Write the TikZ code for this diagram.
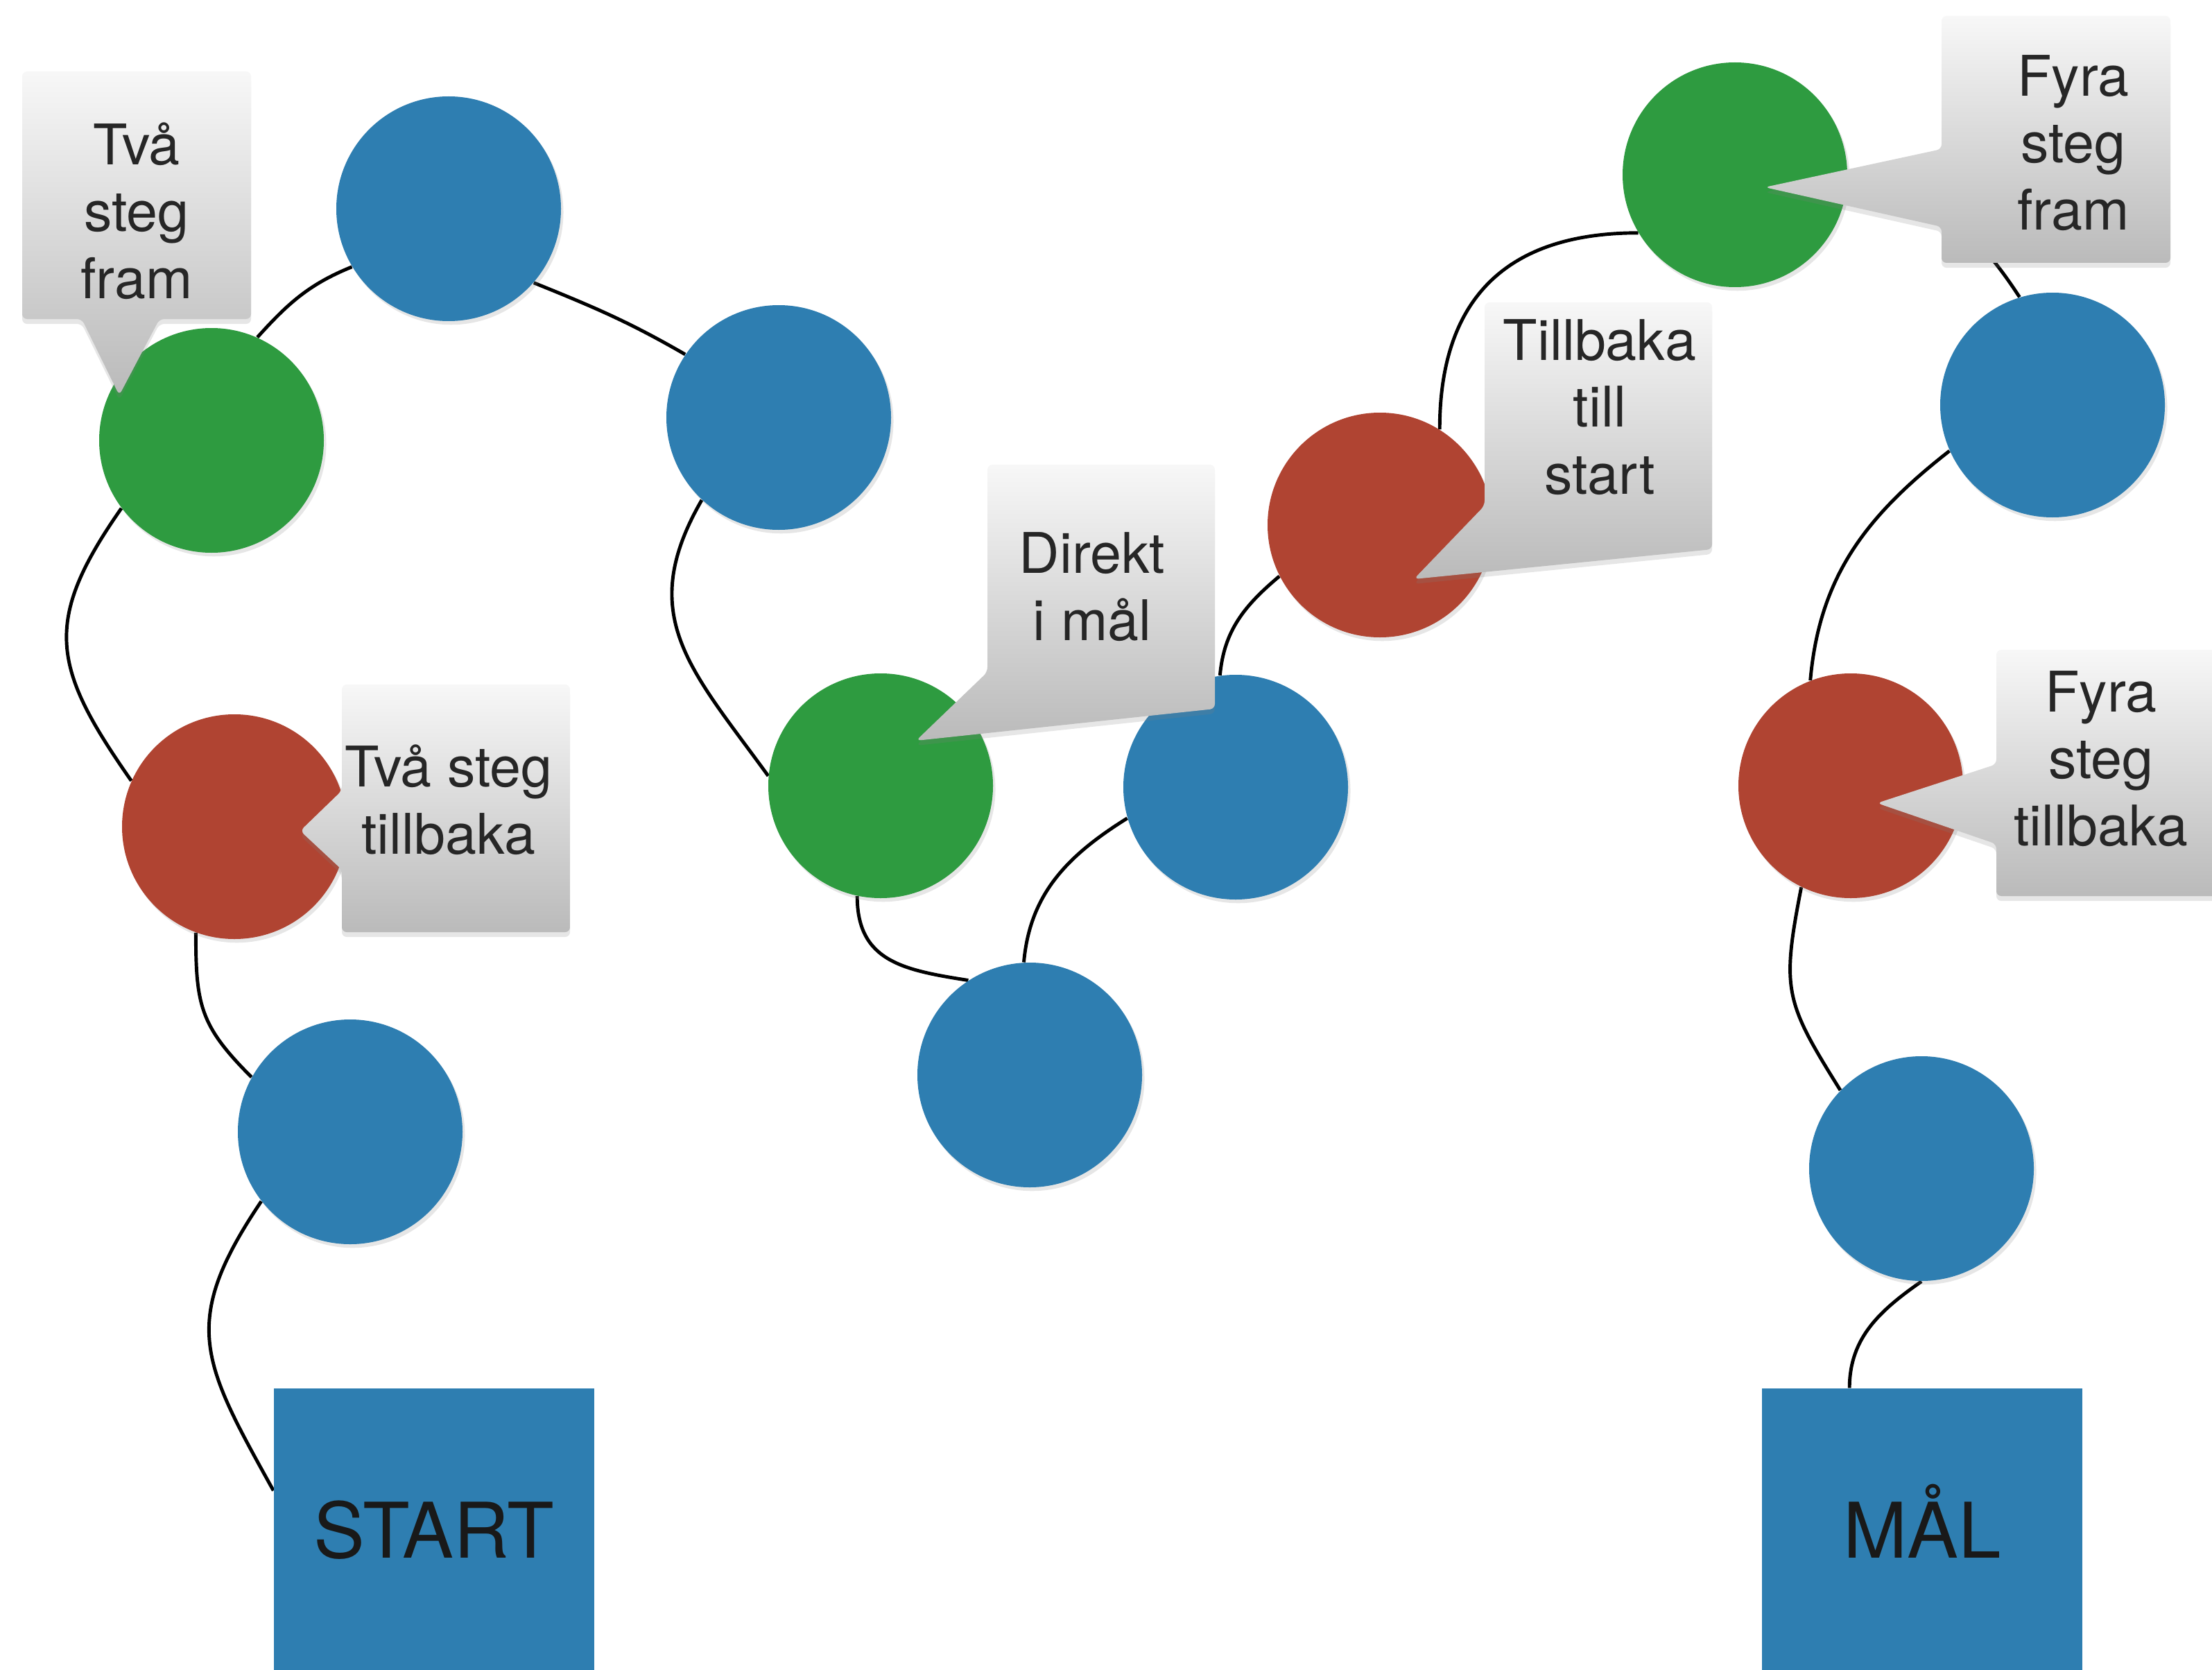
\documentclass[tikz,border=0pt]{standalone}
\usepackage{fontspec}
\setmainfont{TeX Gyre Heros}
\usepackage{tikz}
\usetikzlibrary{backgrounds,shadows}

\definecolor{feltblue}{RGB}{46,126,177}
\definecolor{feltgreen}{RGB}{46,155,64}
\definecolor{feltred}{RGB}{176,68,50}

\begin{document}
\begin{tikzpicture}[
    field/.style={circle,minimum size=3.24cm,inner sep=0pt,
                  drop shadow={opacity=.2,shadow xshift=1pt,shadow yshift=-1.5pt}},
    goal/.style={rectangle,fill=feltblue,minimum width=4.62cm,minimum height=4.1cm,
                 inner sep=0pt,text height=22.5pt,text depth=0pt,text=black!90,
                 font=\fontsize{31.5}{36}\selectfont},
    trail/.style={line width=1.4pt},
    bubble/.style={top color=black!3,bottom color=black!27,rounded corners=2pt,
                   drop shadow={opacity=.2,shadow xshift=0pt,shadow yshift=-2pt}},
    bubbletext/.style={align=center,inner sep=0pt,text=black!85,
                       font=\fontsize{23}{27.5}\selectfont}]

    \useasboundingbox (0,0) rectangle (31.9,-24.08);

    % start and goal
    \node[goal] (start) at (6.26,-22.07) {START};
    \node[goal] (maal) at (27.72,-22.07) {MÅL};

    % the fields
    \begin{scope}[every node/.style={field}]
        \node[fill=feltblue]  (f1)  at (5.05,-16.32) {};
        \node[fill=feltred]   (f2)  at (3.38,-11.92) {};
        \node[fill=feltgreen] (f3)  at (3.05,-6.35) {};
        \node[fill=feltblue]  (f4)  at (6.47,-3.01) {};
        \node[fill=feltblue]  (f5)  at (11.23,-6.02) {};
        \node[fill=feltgreen] (f6)  at (12.70,-11.33) {};
        \node[fill=feltblue]  (f7)  at (14.85,-15.50) {};
        \node[fill=feltblue]  (f8)  at (17.82,-11.35) {};
        \node[fill=feltred]   (f9)  at (19.90,-7.57) {};
        \node[fill=feltgreen] (f10) at (25.02,-2.52) {};
        \node[fill=feltblue]  (f11) at (29.60,-5.84) {};
        \node[fill=feltred]   (f12) at (26.69,-11.33) {};
        \node[fill=feltblue]  (f13) at (27.71,-16.85) {};
    \end{scope}

    % the track
    \begin{scope}[on background layer]
        \draw[trail] (start.166) to[out=119,in=236,looseness=1.3] (f1.218);
        \draw[trail] (f1.151) to[out=135,in=270,looseness=1.2] (f2.250);
        \draw[trail] (f2.156) to[out=125,in=235,looseness=1.3] (f3.217);
        \draw[trail] (f3.66) to[out=48,in=202] (f4.211);
        \draw[trail] (f4.319) to[out=-22,in=150] (f5.146);
        \draw[trail] (f5.227) to[out=240,in=126,looseness=1.2] (f6.175);
        \draw[trail] (f6.258) to[out=270,in=171,looseness=1.2] (f7.123);
        \draw[trail] (f7.93) to[out=85,in=212] (f8.196);
        \draw[trail] (f8.98) to[out=85,in=220] (f9.207);
        \draw[trail] (f9.58) to[out=90,in=180,looseness=1.2] (f10.211);
        \draw[trail] (f10.east) to[out=-10,in=123] (f11.107);
        \draw[trail] (f11.204) to[out=218,in=85] (f12.111);
        \draw[trail] (f12.244) to[out=259,in=122,looseness=1.3] (f13.136);
        \draw[trail] (f13.270) to[out=215,in=90] (maal.117);
    \end{scope}

    % callouts
    \path[bubble] (0.32,-1.03) -- (3.62,-1.03) -- (3.62,-4.60) -- (2.30,-4.60)
        -- (1.72,-5.70) -- (1.18,-4.60) -- (0.32,-4.60) -- cycle;
    \node[bubbletext] (tvafram) at (1.97,-3.04) {Två\\steg\\fram};

    \path[bubble] (4.93,-9.87) -- (8.22,-9.87) -- (8.22,-13.44) -- (4.93,-13.44)
        -- (4.93,-12.54) -- (4.33,-11.98) -- (4.93,-11.40) -- cycle;
    \node[bubbletext] (tvatillbaka) at (6.47,-11.53) {Två steg\\tillbaka};

    \path[bubble] (14.24,-6.70) -- (17.52,-6.70) -- (17.52,-10.22)
        -- (13.21,-10.68) -- (14.24,-9.69) -- cycle;
    \node[bubbletext] (direkt) at (15.75,-8.46) {Direkt\\i mål};

    \path[bubble] (21.41,-4.36) -- (24.69,-4.36) -- (24.69,-7.92)
        -- (20.39,-8.35) -- (21.41,-7.29) -- cycle;
    \node[bubbletext] (tillstart) at (23.07,-5.87) {Tillbaka\\till\\start};

    \path[bubble] (28.00,-0.23) -- (31.30,-0.23) -- (31.30,-3.79) -- (28.00,-3.79)
        -- (28.00,-3.27) -- (25.45,-2.70) -- (28.00,-2.15) -- cycle;
    \node[bubbletext] (fyrafram) at (29.90,-2.06) {Fyra\\steg\\fram};

    \path[bubble] (28.79,-9.37) -- (32.09,-9.37) -- (32.09,-12.92) -- (28.79,-12.92)
        -- (28.79,-12.17) -- (27.07,-11.58) -- (28.79,-11.02) -- cycle;
    \node[bubbletext] (fyratillbaka) at (30.30,-10.94) {Fyra\\steg\\tillbaka};
\end{tikzpicture}
\end{document}
